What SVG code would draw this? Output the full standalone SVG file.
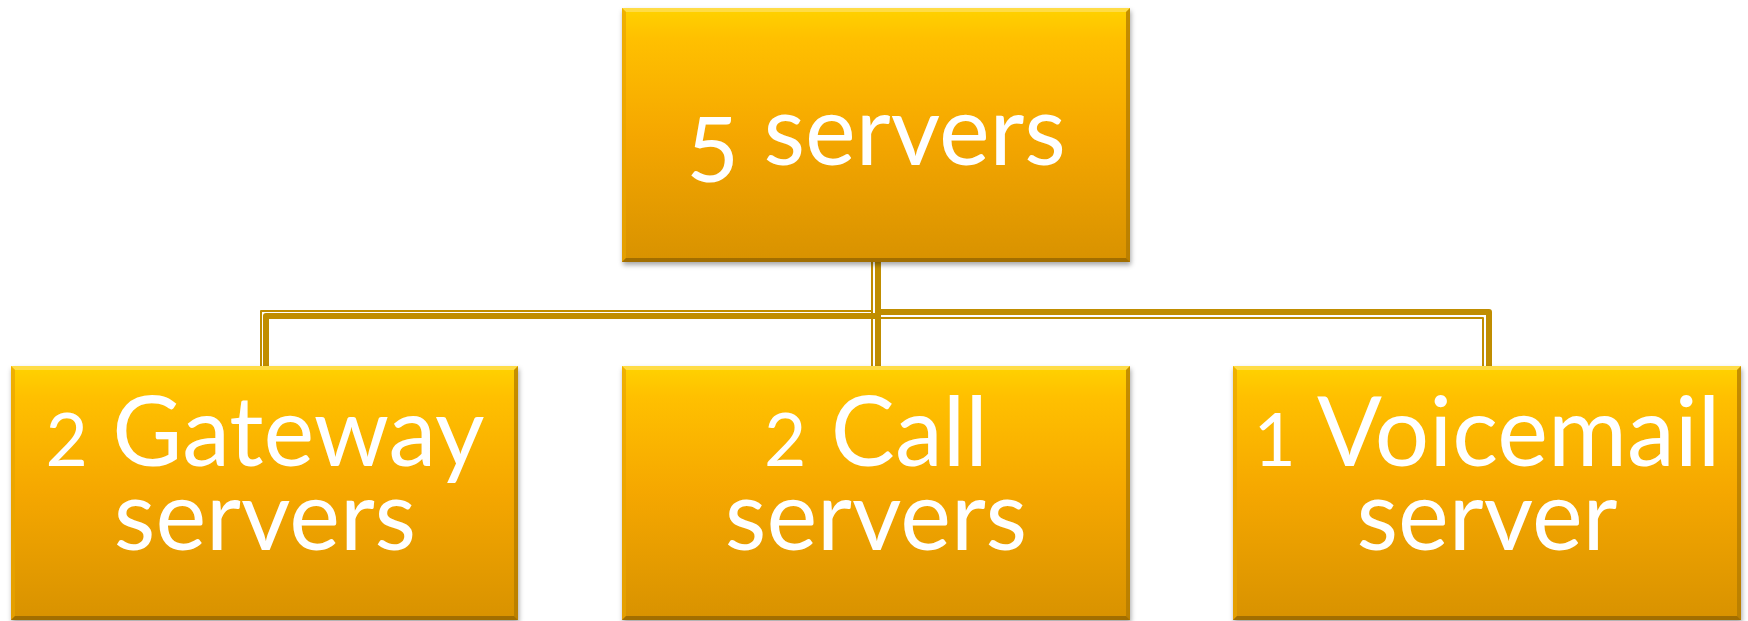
<svg xmlns="http://www.w3.org/2000/svg" width="1748" height="621" viewBox="0 0 1748 621">
<defs>
<linearGradient id="fill" x1="0" y1="0" x2="0" y2="1">
<stop offset="0" stop-color="#FFD200"/>
<stop offset="0.12" stop-color="#FFC000"/>
<stop offset="0.5" stop-color="#F5A700"/>
<stop offset="1" stop-color="#D89200"/>
</linearGradient>
<filter id="shadow" x="-5%" y="-5%" width="110%" height="115%">
<feDropShadow dx="1" dy="3" stdDeviation="2.5" flood-color="#000" flood-opacity="0.35"/>
</filter>
</defs>
<style>
.box{fill:url(#fill);filter:url(#shadow);}
.bt{fill:#FFE680;opacity:0.55;}
.bl{fill:#E8A400;opacity:0.7;}
.br{fill:#B07A00;opacity:0.75;}
.bb{fill:#8F6200;opacity:0.75;}
.lbl{font-family:Lato,"Open Sans","DejaVu Sans",sans-serif;font-size:96px;fill:#fff;text-anchor:middle;}
.num{font-size:73px;}
.thin{fill:none;stroke:#C08D00;stroke-width:2;stroke-linejoin:round;}
.thick{fill:none;stroke:#C08D00;stroke-width:6;stroke-linejoin:round;}
</style>
<g id="connectors">
<path class="thin" d="M872,262 V311 H261 V366"/>
<path class="thick" d="M878,262 V316 H266 V366"/>
<path class="thin" d="M872,262 V366"/>
<path class="thick" d="M878,262 V366"/>
<path class="thin" d="M872,262 V318 H1483 V366"/>
<path class="thick" d="M878,262 V312 H1489 V366"/>
</g>
<g id="node-top" transform="translate(622,8)">
<rect class="box" width="508" height="254"/>
<polygon class="bt" points="0,0 508,0 504,4 4,4"/>
<polygon class="bl" points="0,0 4,4 4,250 0,254"/>
<polygon class="br" points="508,0 508,254 504,250 504,4"/>
<polygon class="bb" points="0,254 4,250 504,250 508,254"/>
<text class="lbl" x="254" y="157"><tspan font-size="91" dy="17">5</tspan><tspan dy="-17"> servers</tspan></text>
</g>
<g id="node-gateway" transform="translate(11,366)">
<rect class="box" width="507" height="254"/>
<polygon class="bt" points="0,0 507,0 503,4 4,4"/>
<polygon class="bl" points="0,0 4,4 4,250 0,254"/>
<polygon class="br" points="507,0 507,254 503,250 503,4"/>
<polygon class="bb" points="0,254 4,250 503,250 507,254"/>
<text class="lbl"><tspan x="254" y="100"><tspan class="num">2</tspan> Gateway</tspan><tspan x="254" y="184">servers</tspan></text>
</g>
<g id="node-call" transform="translate(622,366)">
<rect class="box" width="508" height="254"/>
<polygon class="bt" points="0,0 508,0 504,4 4,4"/>
<polygon class="bl" points="0,0 4,4 4,250 0,254"/>
<polygon class="br" points="508,0 508,254 504,250 504,4"/>
<polygon class="bb" points="0,254 4,250 504,250 508,254"/>
<text class="lbl"><tspan x="254" y="100"><tspan class="num">2</tspan> Call</tspan><tspan x="254" y="184">servers</tspan></text>
</g>
<g id="node-voicemail" transform="translate(1233,366)">
<rect class="box" width="508" height="254"/>
<polygon class="bt" points="0,0 508,0 504,4 4,4"/>
<polygon class="bl" points="0,0 4,4 4,250 0,254"/>
<polygon class="br" points="508,0 508,254 504,250 504,4"/>
<polygon class="bb" points="0,254 4,250 504,250 508,254"/>
<text class="lbl"><tspan x="254" y="100"><tspan class="num">1</tspan> Voicemail</tspan><tspan x="254" y="184">server</tspan></text>
</g>
</svg>
